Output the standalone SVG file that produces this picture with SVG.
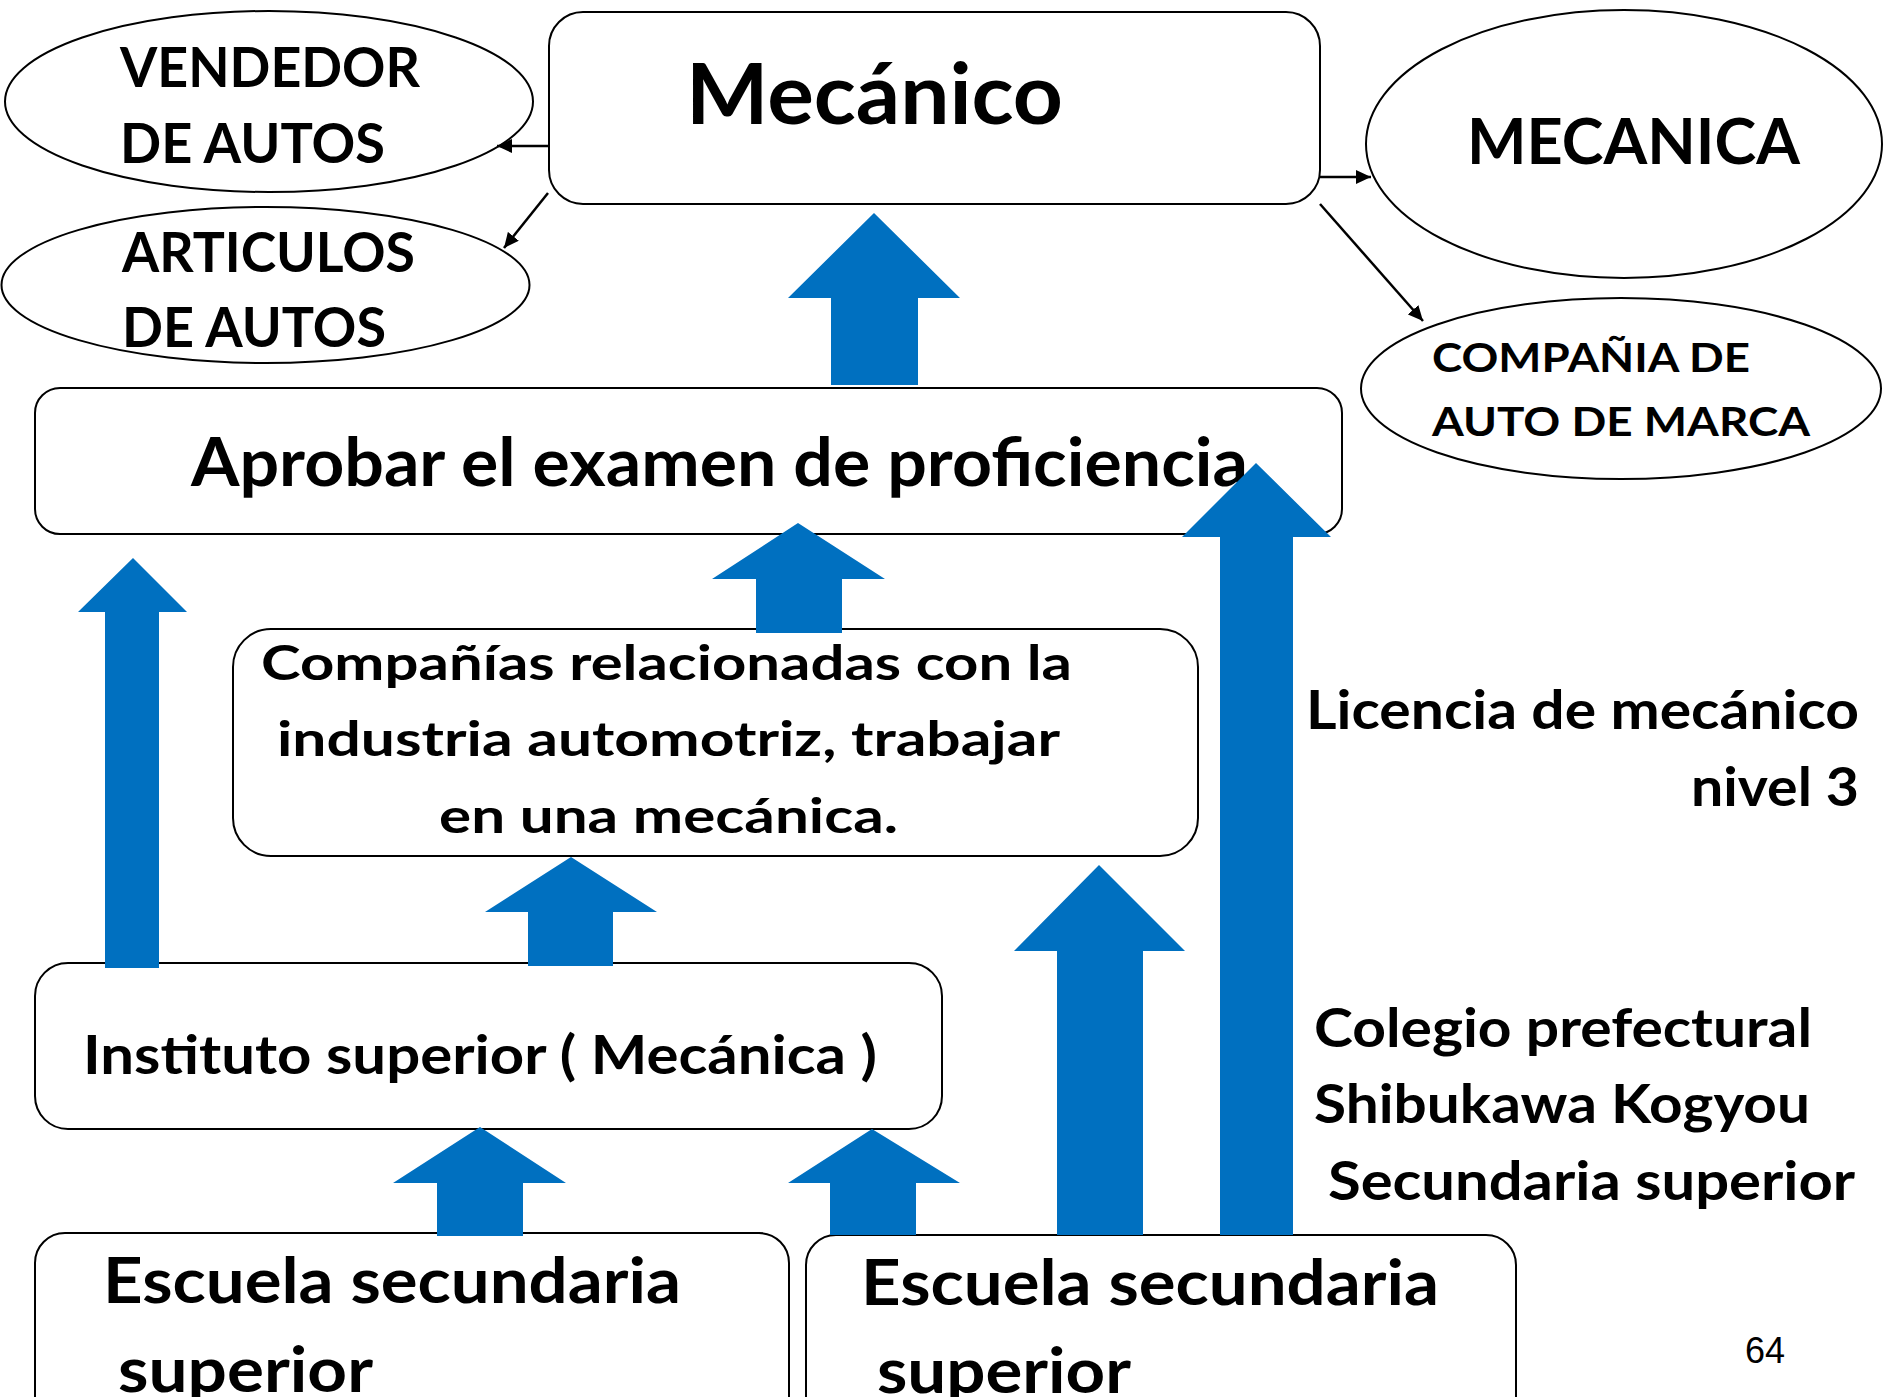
<svg xmlns="http://www.w3.org/2000/svg" width="1883" height="1397" viewBox="0 0 1883 1397">
<style>
.box{fill:#fff;stroke:#000;stroke-width:2}
.t{font-family:Lato,"Open Sans",sans-serif;font-weight:700;fill:#000}
.blue{fill:#0070C0}
.ln{stroke:#000;stroke-width:2.5;fill:none}
</style>
<defs>
<marker id="ah" markerUnits="userSpaceOnUse" markerWidth="16" markerHeight="14" refX="15" refY="7" orient="auto">
<path d="M0,0 L15,7 L0,14 z" fill="#000"/>
</marker>
</defs>
<rect width="1883" height="1397" fill="#fff"/>

<g id="vendedor">
<ellipse class="box" cx="269" cy="101.5" rx="264" ry="90.5"/>
<text class="t" font-size="56" x="120" y="87" textLength="300" lengthAdjust="spacingAndGlyphs">VENDEDOR</text>
<text class="t" font-size="56" x="120" y="163" textLength="265" lengthAdjust="spacingAndGlyphs">DE AUTOS</text>
</g>

<g id="articulos">
<ellipse class="box" cx="265.5" cy="285" rx="264" ry="78"/>
<text class="t" font-size="56" x="122" y="272" textLength="293" lengthAdjust="spacingAndGlyphs">ARTICULOS</text>
<text class="t" font-size="56" x="122" y="347" textLength="264" lengthAdjust="spacingAndGlyphs">DE AUTOS</text>
</g>

<g id="mecanico">
<rect class="box" x="549" y="12" width="771" height="192" rx="34" ry="34"/>
<text class="t" font-size="85" x="686" y="124" textLength="377" lengthAdjust="spacingAndGlyphs">Mecánico</text>
</g>

<g id="mecanica">
<ellipse class="box" cx="1624" cy="144" rx="258" ry="134"/>
<text class="t" font-size="64" x="1467" y="164" textLength="333" lengthAdjust="spacingAndGlyphs">MECANICA</text>
</g>

<g id="compania-marca">
<ellipse class="box" cx="1621" cy="388.5" rx="260" ry="90.5"/>
<text class="t" font-size="41" x="1432" y="372" textLength="318" lengthAdjust="spacingAndGlyphs">COMPAÑIA DE</text>
<text class="t" font-size="41" x="1432" y="436" textLength="378" lengthAdjust="spacingAndGlyphs">AUTO DE MARCA</text>
</g>

<g id="aprobar">
<rect class="box" x="35" y="388" width="1307" height="146" rx="25" ry="25"/>
<text class="t" font-size="67" x="191" y="486" textLength="1057" lengthAdjust="spacingAndGlyphs">Aprobar el examen de proficiencia</text>
</g>

<g id="companias">
<rect class="box" x="233" y="629" width="965" height="227" rx="38" ry="38"/>
<text class="t" font-size="47" x="261" y="680" textLength="811" lengthAdjust="spacingAndGlyphs">Compañías relacionadas con la</text>
<text class="t" font-size="47" x="277" y="756" textLength="783" lengthAdjust="spacingAndGlyphs">industria automotriz, trabajar</text>
<text class="t" font-size="47" x="439" y="833" textLength="459" lengthAdjust="spacingAndGlyphs">en una mecánica.</text>
</g>

<g id="licencia">
<text class="t" font-size="54" x="1306" y="729" textLength="553" lengthAdjust="spacingAndGlyphs">Licencia de mecánico</text>
<text class="t" font-size="54" x="1691" y="806" textLength="168" lengthAdjust="spacingAndGlyphs">nivel 3</text>
</g>

<g id="instituto">
<rect class="box" x="35" y="963" width="907" height="166" rx="33" ry="33"/>
<text class="t" font-size="54" x="83" y="1074" textLength="794" lengthAdjust="spacingAndGlyphs">Instituto superior ( Mecánica )</text>
</g>

<g id="colegio">
<text class="t" font-size="54" x="1314" y="1047" textLength="498" lengthAdjust="spacingAndGlyphs">Colegio prefectural</text>
<text class="t" font-size="54" x="1314" y="1123" textLength="496" lengthAdjust="spacingAndGlyphs">Shibukawa Kogyou</text>
<text class="t" font-size="54" x="1328" y="1200" textLength="527" lengthAdjust="spacingAndGlyphs">Secundaria superior</text>
</g>

<g id="escuela-1">
<rect class="box" x="35" y="1233" width="754" height="200" rx="30" ry="30"/>
<text class="t" font-size="63" x="103" y="1303" textLength="578" lengthAdjust="spacingAndGlyphs">Escuela secundaria</text>
<text class="t" font-size="63" x="118" y="1392" textLength="255" lengthAdjust="spacingAndGlyphs">superior</text>
</g>

<g id="escuela-2">
<rect class="box" x="806" y="1235" width="710" height="200" rx="30" ry="30"/>
<text class="t" font-size="63" x="861" y="1305" textLength="578" lengthAdjust="spacingAndGlyphs">Escuela secundaria</text>
<text class="t" font-size="63" x="877" y="1393" textLength="254" lengthAdjust="spacingAndGlyphs">superior</text>
</g>

<g id="page-number">
<text x="1745" y="1363" font-family="'Liberation Sans',Arial,sans-serif" font-size="36" fill="#000">64</text>
</g>

<g id="connectors">
<line class="ln" x1="549" y1="146" x2="497" y2="146" marker-end="url(#ah)"/>
<line class="ln" x1="548" y1="193" x2="504" y2="248" marker-end="url(#ah)"/>
<line class="ln" x1="1320" y1="177" x2="1371" y2="177" marker-end="url(#ah)"/>
<line class="ln" x1="1320" y1="204" x2="1423" y2="321" marker-end="url(#ah)"/>
<polygon class="blue" points="874,213 960,298 918,298 918,385 831,385 831,298 788,298"/>
<polygon class="blue" points="798,523 885,579 842,579 842,633 756,633 756,579 712,579"/>
<polygon class="blue" points="133,558 187,612 159,612 159,968 105,968 105,612 78,612"/>
<polygon class="blue" points="571,857 657,912 613,912 613,966 528,966 528,912 485,912"/>
<polygon class="blue" points="480,1127 566,1183 523,1183 523,1236 437,1236 437,1183 393,1183"/>
<polygon class="blue" points="872,1129 960,1183 916,1183 916,1235 830,1235 830,1183 788,1183"/>
<polygon class="blue" points="1099,865 1185,951 1143,951 1143,1235 1057,1235 1057,951 1014,951"/>
<polygon class="blue" points="1256,463 1331,537 1293,537 1293,1235 1220,1235 1220,537 1182,537"/>
</g>
</svg>
